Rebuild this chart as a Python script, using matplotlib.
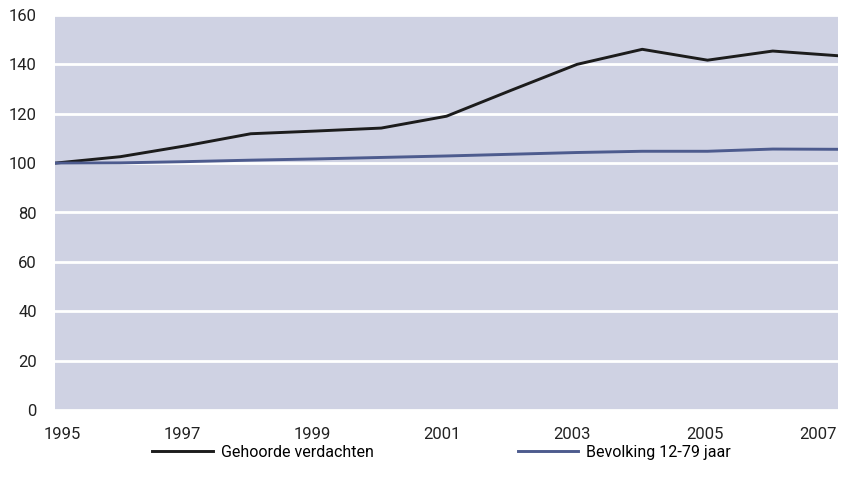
import matplotlib.pyplot as plt
from matplotlib.transforms import ScaledTranslation

# jaren en indexcijfers (1995 = 100)
jaren = list(range(1995, 2008))
verdachten = [100, 102.6, 107, 111.9, 113.0, 114.2, 119.0, 129.6, 140, 146.1, 141.7, 145.4, 143.5]
bevolking = [100, 100.1, 100.6, 101.2, 101.7, 102.3, 102.9, 103.6, 104.3, 104.8, 104.8, 105.7, 105.6]

plt.rcParams['font.family'] = ['Roboto', 'DejaVu Sans']

fig = plt.figure(figsize=(8.46, 4.9), dpi=100)
ax = fig.add_axes([55/846, 1 - 410/490, (838 - 55)/846, (410 - 15)/490])
ax.set_facecolor('#cfd2e3')

ax.plot(jaren, verdachten, color='#1c1c1c', lw=2.1, label='Gehoorde verdachten')
ax.plot(jaren, bevolking, color='#4d5b8e', lw=2.1, label='Bevolking 12-79 jaar')

ax.set_xlim(1995, 2007)
ax.set_ylim(0, 160)
ax.set_yticks(range(0, 161, 20))
ax.set_xticks(range(1995, 2008, 2))
ax.grid(axis='y', color='white', lw=2)
ax.set_axisbelow(True)
for s in ax.spines.values():
    s.set_visible(False)
ax.tick_params(length=0, labelsize=12, colors='#222222')
ax.tick_params(axis='x', pad=12)
ax.tick_params(axis='y', pad=13)

# labels staan in het origineel iets verschoven
verschuiving = [7.5, -3.5, -4, -4.5, -5, -2.5, -20]
for lab, dx in zip(ax.get_xticklabels(), verschuiving):
    lab.set_transform(lab.get_transform() + ScaledTranslation(dx / 100, 0, fig.dpi_scale_trans))

leg = fig.legend(loc='center left', bbox_to_anchor=(138/846, 1 - 452/490), ncol=2, frameon=False,
                 fontsize=11.5, handlelength=3.8, columnspacing=9.0, handletextpad=0.5)

fig.savefig('out.png', dpi=100)
